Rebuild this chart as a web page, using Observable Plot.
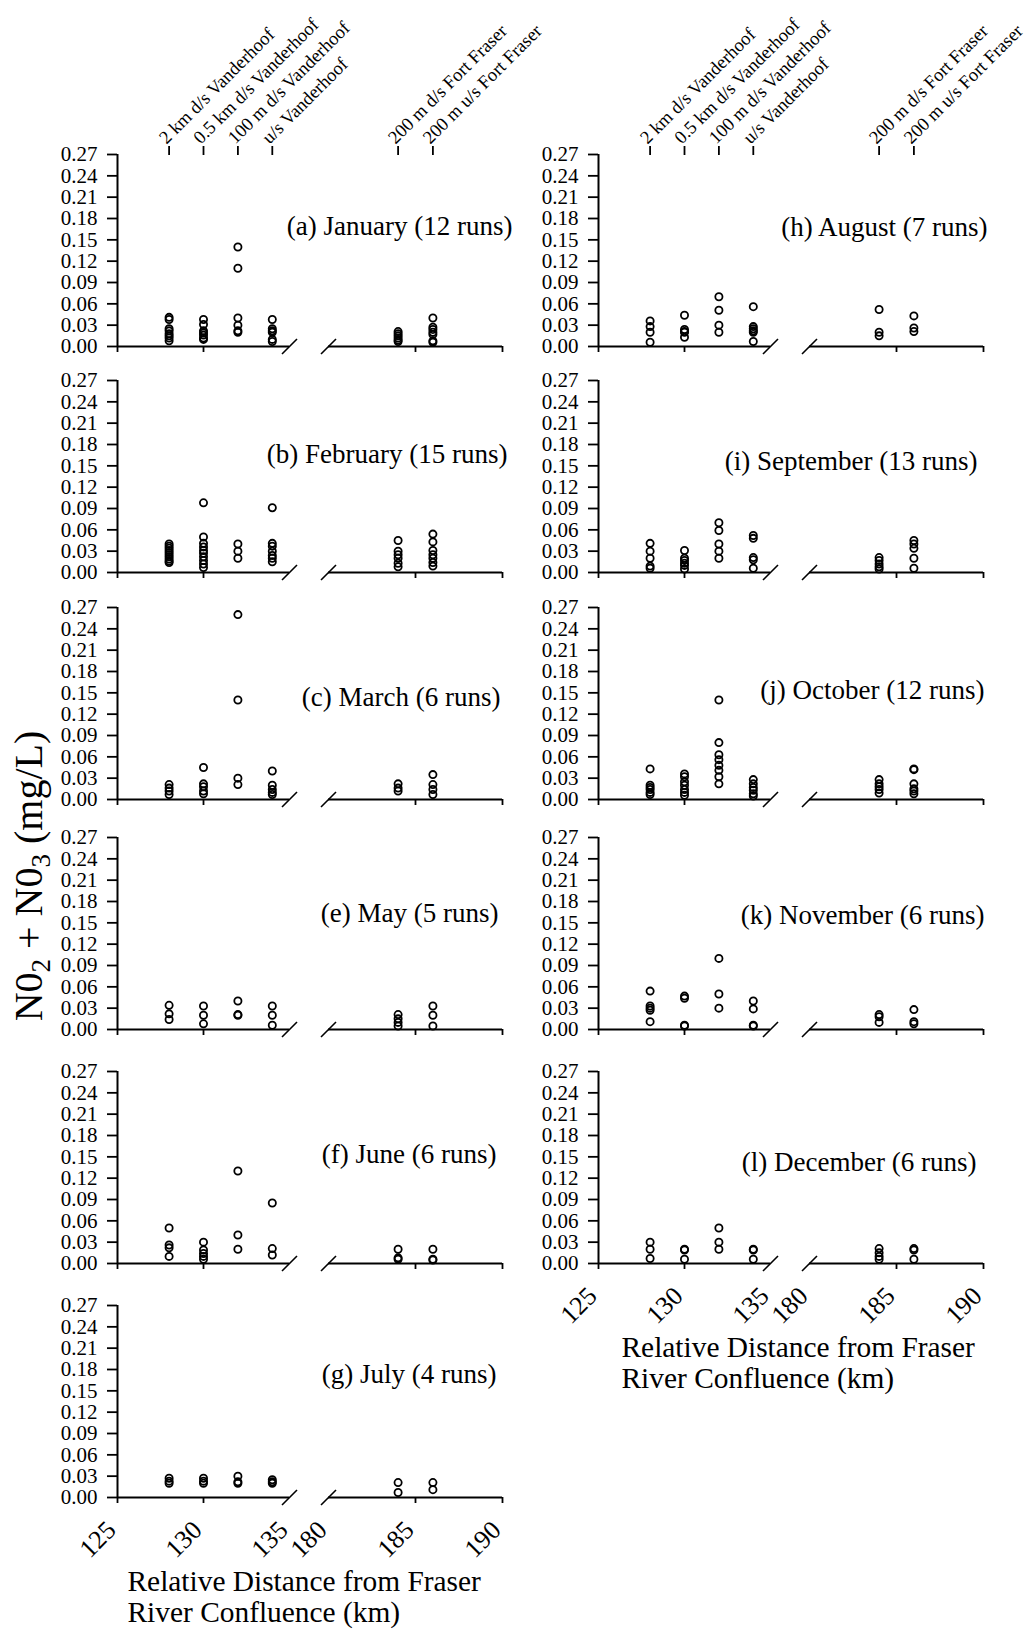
<!DOCTYPE html>
<html><head><meta charset="utf-8">
<script src="https://cdn.jsdelivr.net/npm/d3@7"></script>
<script src="https://cdn.jsdelivr.net/npm/@observablehq/plot@0.6"></script>
<style>
body{margin:0;background:#fff;}
#fig{position:relative;width:1026px;height:1630px;overflow:hidden;font-family:"Liberation Serif",serif;background:#fff;}
#fig svg{position:absolute;top:0;}
#ytitle{position:absolute;left:29px;top:876px;transform:translate(-50%,-50%) rotate(-90deg);font-size:40px;white-space:nowrap;color:#000;line-height:1;}
#ytitle sub{font-size:27px;vertical-align:-8px;line-height:0;}
</style></head><body><div id="fig"><div id="ytitle">N0<sub>2</sub> + N0<sub>3</sub> (mg/L)</div></div>
<script>
// ---- data ----
const sites = [128, 130, 132, 134, 184, 186];
const siteNames = ["2 km d/s Vanderhoof", "0.5 km d/s Vanderhoof", "100 m d/s Vanderhoof", "u/s Vanderhoof", "200 m d/s Fort Fraser", "200 m u/s Fort Fraser"];
const yTicks = [0, 0.03, 0.06, 0.09, 0.12, 0.15, 0.18, 0.21, 0.24, 0.27];
const xTicks = [125, 130, 135, 180, 185, 190];
const xTickMarks = [125, 130, 185, 190];
const xBreaks = [135, 180];
const xSegments = [[125, 135], [180, 190]];

const janValues = [
  [0.041, 0.038, 0.025, 0.022, 0.018, 0.015, 0.012, 0.008],
  [0.038, 0.031, 0.022, 0.019, 0.016, 0.012, 0.010],
  [0.140, 0.110, 0.040, 0.030, 0.022, 0.020],
  [0.038, 0.025, 0.022, 0.020, 0.010, 0.007],
  [0.021, 0.018, 0.015, 0.012, 0.009, 0.007],
  [0.040, 0.027, 0.024, 0.020, 0.017, 0.008, 0.006]
];
const febValues = [
  [0.040, 0.037, 0.034, 0.031, 0.028, 0.025, 0.022, 0.019, 0.016, 0.014],
  [0.098, 0.050, 0.041, 0.036, 0.031, 0.027, 0.022, 0.017, 0.012, 0.007],
  [0.040, 0.030, 0.020],
  [0.091, 0.041, 0.037, 0.030, 0.024, 0.020, 0.015],
  [0.045, 0.030, 0.025, 0.020, 0.013, 0.008],
  [0.054, 0.043, 0.031, 0.025, 0.020, 0.014, 0.009]
];
const marValues = [
  [0.021, 0.016, 0.012, 0.007],
  [0.045, 0.022, 0.018, 0.012, 0.008],
  [0.260, 0.140, 0.030, 0.021],
  [0.040, 0.020, 0.014, 0.010, 0.007],
  [0.022, 0.016, 0.012],
  [0.035, 0.021, 0.014, 0.007]
];
const mayValues = [
  [0.034, 0.022, 0.014],
  [0.033, 0.020, 0.008],
  [0.040, 0.021, 0.020],
  [0.033, 0.020, 0.006],
  [0.021, 0.015, 0.010, 0.005],
  [0.033, 0.020, 0.005]
];
const junValues = [
  [0.050, 0.026, 0.022, 0.010],
  [0.030, 0.019, 0.014, 0.010, 0.006],
  [0.130, 0.040, 0.020],
  [0.085, 0.021, 0.012],
  [0.020, 0.008, 0.006],
  [0.020, 0.006, 0.005]
];
const julValues = [
  [0.027, 0.023, 0.020],
  [0.027, 0.023, 0.020],
  [0.030, 0.022, 0.020],
  [0.025, 0.022, 0.020],
  [0.021, 0.007],
  [0.021, 0.011]
];
const augValues = [
  [0.036, 0.028, 0.020, 0.006],
  [0.044, 0.024, 0.021, 0.020, 0.013],
  [0.070, 0.051, 0.030, 0.020],
  [0.056, 0.028, 0.025, 0.022, 0.020, 0.007],
  [0.052, 0.020, 0.015],
  [0.043, 0.026, 0.021]
];
const sepValues = [
  [0.041, 0.030, 0.020, 0.009, 0.006],
  [0.031, 0.020, 0.017, 0.013, 0.010, 0.005],
  [0.070, 0.059, 0.040, 0.030, 0.020],
  [0.052, 0.048, 0.021, 0.018, 0.006],
  [0.021, 0.017, 0.012, 0.008, 0.005],
  [0.045, 0.040, 0.034, 0.020, 0.006]
];
const octValues = [
  [0.043, 0.020, 0.017, 0.014, 0.010, 0.007],
  [0.036, 0.032, 0.025, 0.020, 0.014, 0.010, 0.006],
  [0.140, 0.080, 0.063, 0.056, 0.048, 0.041, 0.032, 0.022],
  [0.028, 0.022, 0.017, 0.013, 0.008, 0.005],
  [0.028, 0.022, 0.018, 0.014, 0.009],
  [0.043, 0.042, 0.022, 0.015, 0.012, 0.008]
];
const novValues = [
  [0.054, 0.033, 0.030, 0.027, 0.011],
  [0.047, 0.044, 0.006, 0.005],
  [0.100, 0.050, 0.030],
  [0.040, 0.029, 0.006, 0.005],
  [0.021, 0.018, 0.010],
  [0.028, 0.011, 0.008]
];
const decValues = [
  [0.030, 0.020, 0.007],
  [0.020, 0.019, 0.006],
  [0.050, 0.030, 0.020],
  [0.020, 0.019, 0.006],
  [0.021, 0.015, 0.010, 0.006],
  [0.021, 0.019, 0.006]
];

const panels = [
  {label: "(a) January (12 runs)", values: janValues},
  {label: "(b) February (15 runs)", values: febValues},
  {label: "(c) March (6 runs)", values: marValues},
  {label: "(e) May (5 runs)", values: mayValues},
  {label: "(f) June (6 runs)", values: junValues},
  {label: "(g) July (4 runs)", values: julValues},
  {label: "(h) August (7 runs)", values: augValues},
  {label: "(i) September (13 runs)", values: sepValues},
  {label: "(j) October (12 runs)", values: octValues},
  {label: "(k) November (6 runs)", values: novValues},
  {label: "(l) December (6 runs)", values: decValues}
];
const xTitle = "Relative Distance from Fraser\nRiver Confluence (km)";

// ---- layout (positions/styles) ----
const rowBottoms = [346, 572, 799, 1029, 1263, 1497];
const panelHeight = 192;
const colOffsets = [0, 481];
const titleDx = [10, 23];
const layout = [
  {col: 0, row: 0, labelY: 0.169, labelDx: 10},
  {col: 0, row: 1, labelY: 0.166, labelDx: 5},
  {col: 0, row: 2, labelY: 0.143, labelDx: -2},
  {col: 0, row: 3, labelY: 0.163, labelDx: -4},
  {col: 0, row: 4, labelY: 0.153, labelDx: -6},
  {col: 0, row: 5, labelY: 0.173, labelDx: -6},
  {col: 1, row: 0, labelY: 0.167, labelDx: 4},
  {col: 1, row: 1, labelY: 0.156, labelDx: -6},
  {col: 1, row: 2, labelY: 0.153, labelDx: 1},
  {col: 1, row: 3, labelY: 0.160, labelDx: 1},
  {col: 1, row: 4, labelY: 0.142, labelDx: -7}
];
const W = 545, H = 1630;
const slash = {draw(context, size) { const r = Math.sqrt(size / Math.PI); context.moveTo(-r, r); context.lineTo(r, -r); }};

const fig = document.getElementById("fig");
panels.forEach((p, k) => {
  const L = layout[k];
  const bottom = rowBottoms[L.row];
  const top = bottom - panelHeight;
  const isTop = L.row === 0;
  const isBottom = !layout.some(q => q.col === L.col && q.row === L.row + 1);
  const points = p.values.flatMap((vals, i) => vals.map(v => ({site: sites[i], value: v})));
  const marks = [
    Plot.ruleX([125], {y1: 0, y2: 0.27, stroke: "black", strokeWidth: 2}),
    Plot.ruleY(xSegments, {y: 0, x1: d => d[0], x2: d => d[1], stroke: "black", strokeWidth: 2}),
    Plot.dot(xBreaks, {x: d => d, y: 0, r: 7.5, symbol: slash, stroke: "black", strokeWidth: 1.6, fill: "none"}),
    Plot.axisY({ticks: yTicks, tickFormat: d3.format(".2f"), tickSize: 10, tickPadding: 10, fontSize: 21, strokeWidth: 1.8, label: null}),
    Plot.axisX({ticks: xTickMarks, tickSize: 6, tickFormat: () => "", strokeWidth: 1.8, label: null}),
    Plot.dot(points, {x: "site", y: "value", r: 3.6, stroke: "black", strokeWidth: 1.8, fill: "none"}),
    Plot.text([p.label], {x: 190, y: L.labelY, text: d => d, textAnchor: "end", dx: L.labelDx, fontSize: 27})
  ];
  if (isTop) {
    marks.push(Plot.axisX({anchor: "top", ticks: sites, tickSize: 9, tickFormat: () => "", strokeWidth: 1.8, label: null}));
    marks.push(Plot.text(sites, {x: d => d, frameAnchor: "top", text: (d, i) => siteNames[i], rotate: -45, textAnchor: "start", dx: -12, dy: -19, fontSize: 18.5}));
  }
  if (isBottom) {
    marks.push(Plot.text(xTicks, {x: d => d, frameAnchor: "bottom", text: d => String(d), rotate: -45, textAnchor: "end", dy: 34, fontSize: 26}));
    marks.push(Plot.text([xTitle], {frameAnchor: "bottom-left", text: d => d, textAnchor: "start", lineAnchor: "top", dx: titleDx[L.col], dy: 71, fontSize: 29.4, lineHeight: 1.07}));
  }
  const svg = Plot.plot({
    width: W, height: H,
    marginLeft: 117, marginRight: W - 502, marginTop: top, marginBottom: H - bottom,
    x: {type: "linear", domain: [125, 135, 180, 190], range: [117, 289, 328, 502], label: null},
    y: {domain: [0, 0.27], label: null},
    style: {fontFamily: "Liberation Serif", color: "black", background: "none", overflow: "visible"},
    marks
  });
  svg.style.left = colOffsets[L.col] + "px";
  svg.style.position = "absolute";
  svg.style.top = "0px";
  svg.style.maxWidth = "none";
  fig.appendChild(svg);
});
</script></body></html>
